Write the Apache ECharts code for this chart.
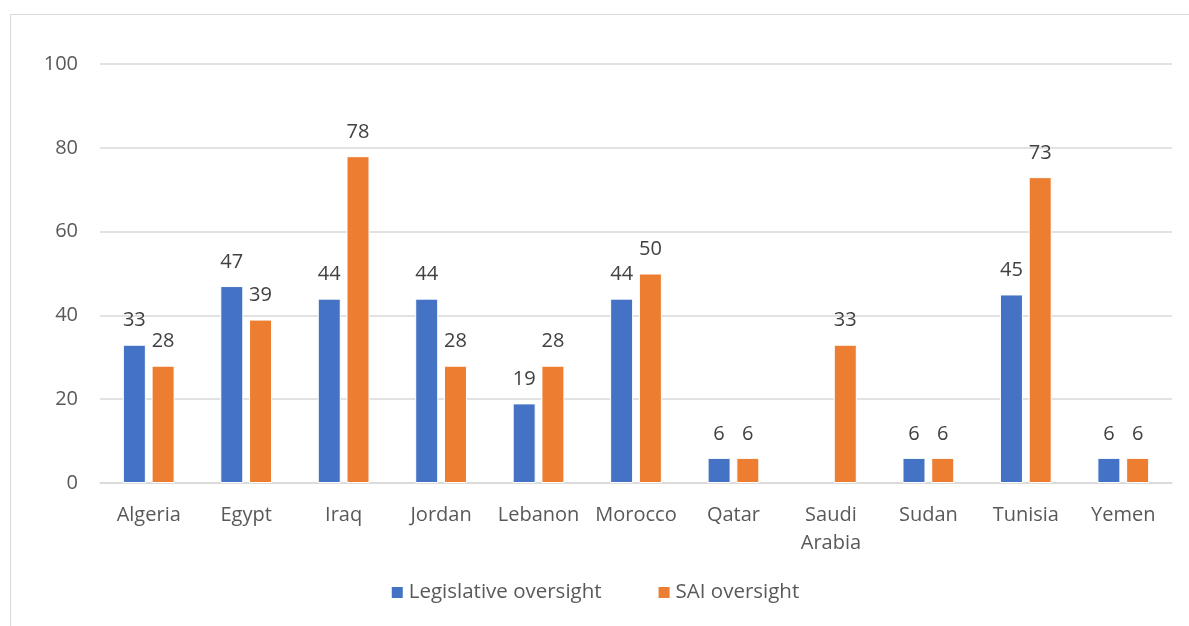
<!DOCTYPE html>
<html>
<head>
<meta charset="utf-8">
<script src="https://cdn.jsdelivr.net/npm/echarts@6/dist/echarts.min.js"></script>
<style>
  html, body { margin: 0; padding: 0; background: #fff; }
  #frame { position: absolute; left: 10px; top: 14px; width: 1200px; height: 640px; border: 1.5px solid #d9d9d9; }
  #main { position: absolute; left: 0; top: 0; width: 1189px; height: 626px; }
</style>
</head>
<body>
<div id="frame"></div>
<div id="main"></div>
<script>
var countries = ['Algeria', 'Egypt', 'Iraq', 'Jordan', 'Lebanon', 'Morocco', 'Qatar', 'Saudi\nArabia', 'Sudan', 'Tunisia', 'Yemen'];
var legislative = [33, 47, 44, 44, 19, 44, 6, null, 6, 45, 6];
var sai = [28, 39, 78, 28, 28, 50, 6, 33, 6, 73, 6];
var yTicks = [0, 20, 40, 60, 80, 100];

var font = 'Open Sans';
var textColor = '#595959';

var chart = echarts.init(document.getElementById('main'));

function barSeries(name, values, color) {
    return {
        name: name,
        type: 'bar',
        data: values,
        barWidth: 23,
        barGap: '25%',
        itemStyle: { color: color, borderColor: '#fff', borderWidth: 1 },
        label: {
            show: true,
            position: 'top',
            distance: 14,
            color: '#404040',
            fontFamily: font,
            fontSize: 20
        }
    };
}

chart.setOption({
    animation: false,
    grid: { left: 100, right: 17, top: 64, bottom: 143, containLabel: false },
    legend: {
        bottom: 18,
        left: 'center',
        itemWidth: 13,
        itemHeight: 13,
        itemGap: 55,
        icon: 'rect',
        textStyle: { color: textColor, fontFamily: font, fontSize: 20.5 },
        data: ['Legislative oversight', 'SAI oversight']
    },
    xAxis: {
        type: 'category',
        data: countries,
        axisLine: { lineStyle: { color: '#d9d9d9', width: 1.5 } },
        axisTick: { show: false },
        axisLabel: { interval: 0, hideOverlap: false, color: textColor, fontFamily: font, fontSize: 20, margin: 18, lineHeight: 28 }
    },
    yAxis: {
        type: 'value',
        min: yTicks[0],
        max: yTicks[yTicks.length - 1],
        interval: 20,
        axisLine: { show: false },
        axisTick: { show: false },
        splitLine: { lineStyle: { color: '#d9d9d9', width: 1.5 } },
        axisLabel: { color: textColor, fontFamily: font, fontSize: 20, margin: 22 }
    },
    series: [
        barSeries('Legislative oversight', legislative, '#4472c4'),
        barSeries('SAI oversight', sai, '#ed7d31')
    ]
});
</script>
</body>
</html>
